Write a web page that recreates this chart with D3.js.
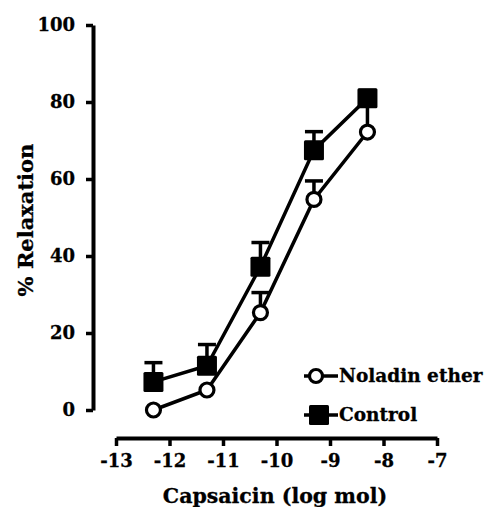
<!DOCTYPE html>
<html lang="en">
<head>
  <meta charset="UTF-8">
  <title>Capsaicin relaxation</title>
  <style>
    body { margin: 0; background: #fff; }
    text { font-family: 'DejaVu Serif', serif; font-weight: bold; fill: #000; stroke: #000; stroke-width: 0.3px; }
  </style>
</head>
<body>
<svg id="chart"></svg>
<script src="https://cdn.jsdelivr.net/npm/d3@7/dist/d3.min.js"></script>
<script>
// data
const logDose = [-12.3, -11.3, -10.3, -9.3, -8.3];
const controlMean = [7.3, 11.5, 37.2, 67.5, 81];
const controlErr = [5, 5.5, 6.3, 4.8, 2];
const noladinMean = [0, 5.2, 25.3, 54.7, 72.2];
const noladinErr = [0, 0, 5.2, 4.8, 8];
const xTicks = [-13, -12, -11, -10, -9, -8, -7];
const yTicks = [0, 20, 40, 60, 80, 100];

const width = 486;
const height = 507;

const svg = d3.select('#chart')
  .attr('width', width)
  .attr('height', height);

const x = d3.scaleLinear().domain([-13, -7]).range([116, 437]);
const y = d3.scaleLinear().domain([0, 100]).range([410, 25]);

// y axis
const yAxis = svg.append('g')
  .attr('transform', 'translate(93,0)')
  .call(d3.axisLeft(y).tickValues(yTicks).tickSize(7).tickSizeOuter(0).tickPadding(11));
yAxis.select('.domain').attr('stroke-width', 4);
yAxis.selectAll('.tick line').attr('stroke-width', 3.5);
yAxis.selectAll('.tick text').style('font-size', '18px');

// x axis, plain hyphen on negatives like the original
const xAxis = svg.append('g')
  .attr('transform', 'translate(0,438)')
  .call(d3.axisBottom(x).tickValues(xTicks).tickFormat(d => String(d))
    .tickSize(8).tickSizeOuter(0).tickPadding(8));
xAxis.select('.domain').attr('stroke-width', 4);
xAxis.selectAll('.tick line').attr('stroke-width', 3.5);
xAxis.selectAll('.tick text').style('font-size', '18px');

// axis titles
svg.append('text')
  .attr('transform', 'translate(33,220) rotate(-90)')
  .attr('text-anchor', 'middle')
  .style('font-size', '21px')
  .text('% Relaxation');

svg.append('text')
  .attr('x', 275)
  .attr('y', 503)
  .attr('text-anchor', 'middle')
  .style('font-size', '20.5px')
  .text('Capsaicin (log mol)');

const line = d3.line()
  .x(d => x(d[0]))
  .y(d => y(d[1]));

function drawSeries(means, errs, shape) {
  const pts = logDose.map((v, i) => [v, means[i], errs[i]]);
  const g = svg.append('g');

  g.append('path')
    .datum(pts)
    .attr('d', line)
    .attr('fill', 'none')
    .attr('stroke', '#000')
    .attr('stroke-width', 3.5);

  // error bars (upward only)
  const eb = g.selectAll('.err')
    .data(pts.filter(d => d[2] > 0))
    .enter()
    .append('g');
  eb.append('line')
    .attr('x1', d => x(d[0]))
    .attr('x2', d => x(d[0]))
    .attr('y1', d => y(d[1]))
    .attr('y2', d => y(d[1] + d[2]))
    .attr('stroke', '#000')
    .attr('stroke-width', 3.5);
  eb.append('line')
    .attr('x1', d => x(d[0]) - 9)
    .attr('x2', d => x(d[0]) + 9)
    .attr('y1', d => y(d[1] + d[2]))
    .attr('y2', d => y(d[1] + d[2]))
    .attr('stroke', '#000')
    .attr('stroke-width', 3.5);

  if (shape === 'circle') {
    g.selectAll('circle')
      .data(pts)
      .enter()
      .append('circle')
      .attr('cx', d => x(d[0]))
      .attr('cy', d => y(d[1]))
      .attr('r', 7)
      .attr('fill', '#fff')
      .attr('stroke', '#000')
      .attr('stroke-width', 3.2);
  } else {
    g.selectAll('rect')
      .data(pts)
      .enter()
      .append('rect')
      .attr('x', d => x(d[0]) - 10)
      .attr('y', d => y(d[1]) - 10)
      .attr('width', 20)
      .attr('height', 20)
      .attr('rx', 1.5)
      .attr('fill', '#000');
  }
}

drawSeries(noladinMean, noladinErr, 'circle');
drawSeries(controlMean, controlErr, 'square');

// legend
const legend = [
  { name: 'Noladin ether', shape: 'circle', y: 376 },
  { name: 'Control', shape: 'square', y: 415 }
];
const lg = svg.selectAll('.legend')
  .data(legend)
  .enter()
  .append('g')
  .attr('transform', d => `translate(318,${d.y})`);
lg.append('line')
  .attr('x1', -14).attr('x2', 20)
  .attr('stroke', '#000')
  .attr('stroke-width', 3.5);
lg.each(function(d) {
  if (d.shape === 'circle') {
    d3.select(this).append('circle')
      .attr('cx', -2)
      .attr('r', 6.5)
      .attr('fill', '#fff')
      .attr('stroke', '#000')
      .attr('stroke-width', 3.2);
  } else {
    d3.select(this).append('rect')
      .attr('x', -9).attr('y', -10)
      .attr('width', 20).attr('height', 20)
      .attr('rx', 1.5)
      .attr('fill', '#000');
  }
});
lg.append('text')
  .attr('x', 21)
  .attr('dy', '0.35em')
  .style('font-size', '18.5px')
  .text(d => d.name);
</script>
</body>
</html>
